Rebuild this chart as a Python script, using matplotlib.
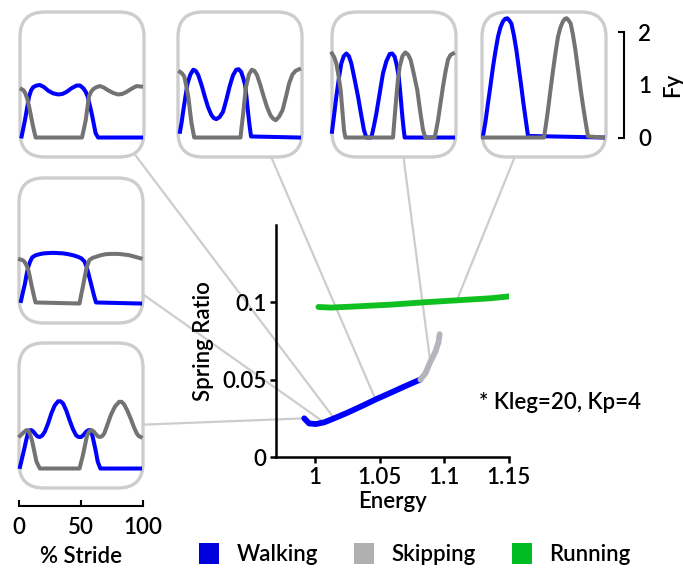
import matplotlib
matplotlib.use("Agg")
import matplotlib.pyplot as plt
from matplotlib.patches import FancyBboxPatch, Patch, ConnectionPatch

plt.rcParams['font.family'] = ['Lato', 'DejaVu Sans']
plt.rcParams['font.weight'] = 'semibold'
plt.rcParams['axes.labelweight'] = 'semibold'

# gait branches: energy vs spring ratio
walk_energy = [0.9918, 0.9956, 1.0008, 1.0072, 1.0149, 1.0251, 1.0380, 1.0469, 1.0585, 1.0687, 1.0815]
walk_ratio = [0.0250, 0.0217, 0.0213, 0.0224, 0.0250, 0.0286, 0.0336, 0.0372, 0.0415, 0.0454, 0.0501]
skip_energy = [1.0815, 1.0854, 1.0892, 1.0931, 1.0956, 1.0964]
skip_ratio = [0.0501, 0.0540, 0.0615, 0.0680, 0.0744, 0.0794]
run_energy = [1.0028, 1.0123, 1.0328, 1.0585, 1.0841, 1.1097, 1.1354, 1.1508]
run_ratio = [0.0970, 0.0966, 0.0974, 0.0985, 0.1000, 0.1013, 0.1026, 0.1039]

x_ticks = [1, 1.05, 1.1, 1.15]
x_tick_labels = ['1', '1.05', '1.1', '1.15']
y_ticks = [0, 0.05, 0.1]
y_tick_labels = ['0', '0.05', '0.1']

# vertical force profiles over one stride (leg 1 blue, leg 2 gray)
wa_blue_x = [1.3, 2.7, 4, 5.7, 7.3, 9, 10.7, 13.3, 16, 19.4, 22.8, 26.8, 30.9, 34.3, 37.6, 41.7, 45.7, 48.4, 51, 53, 54.6, 56.2, 57.8, 59.4, 61, 63, 97.6]
wa_blue_y = [0.02, 0.18, 0.33, 0.56, 0.78, 0.9, 0.96, 0.99, 1.0, 0.96, 0.89, 0.84, 0.82, 0.83, 0.87, 0.94, 0.99, 0.99, 0.94, 0.87, 0.78, 0.62, 0.46, 0.27, 0.08, 0, 0]
wa_gray_x = [1.3, 2.8, 4.3, 5.8, 7.3, 8.7, 10, 11.3, 12.6, 50, 51.5, 53, 54.3, 55.6, 57.3, 59, 61.7, 64.5, 67.7, 71, 75, 79, 82.5, 86, 90, 94, 97.6]
wa_gray_y = [0.92, 0.9, 0.84, 0.74, 0.59, 0.43, 0.27, 0.13, 0, 0, 0.16, 0.33, 0.56, 0.78, 0.87, 0.92, 0.96, 0.98, 0.95, 0.9, 0.85, 0.82, 0.83, 0.87, 0.93, 0.98, 0.97]

wb_blue_x = [1.6, 3, 4.3, 6, 7.7, 10, 12.3, 14.3, 16.3, 19, 21.6, 24.2, 26.9, 28.9, 30.9, 33.6, 36.3, 39, 41.6, 44.3, 46.9, 48.9, 50.9, 52.5, 54.1, 55.2, 56.3, 57.6, 58.9, 97.6]
wb_blue_y = [0.11, 0.3, 0.52, 0.78, 1.03, 1.2, 1.29, 1.27, 1.19, 1.0, 0.78, 0.58, 0.43, 0.37, 0.35, 0.39, 0.49, 0.72, 0.97, 1.18, 1.29, 1.3, 1.25, 1.14, 1.0, 0.78, 0.52, 0.25, 0.02, 0]
wb_gray_x = [1.6, 3.3, 5.1, 6.7, 8.3, 9.6, 10.9, 13.1, 50.4, 51.3, 52.3, 53.6, 54.9, 57.2, 59.5, 61.6, 63.7, 66.4, 69.1, 71.8, 74.4, 76.6, 78.9, 81.6, 84.3, 87, 89.6, 92.3, 94.9, 97.6]
wb_gray_y = [1.25, 1.22, 1.16, 0.98, 0.78, 0.52, 0.27, 0, 0, 0.2, 0.4, 0.7, 0.97, 1.2, 1.29, 1.27, 1.19, 1.0, 0.78, 0.58, 0.43, 0.36, 0.33, 0.4, 0.52, 0.77, 1.03, 1.2, 1.27, 1.3]

sk_blue_x = [0, 1.8, 3.5, 5.5, 7.5, 9.5, 11.6, 13.6, 15.6, 18.3, 21, 23.4, 25.8, 27.7, 31.7, 33.8, 35.8, 38.5, 41.1, 43.8, 46.5, 48.5, 50.5, 52.2, 53.8, 55.2, 56.5, 57.6, 58.6, 97.6]
sk_blue_y = [0.11, 0.45, 0.78, 1.12, 1.41, 1.55, 1.6, 1.55, 1.41, 1.1, 0.78, 0.45, 0.14, 0, 0, 0.22, 0.46, 0.85, 1.22, 1.45, 1.59, 1.6, 1.54, 1.38, 1.16, 0.82, 0.46, 0.2, 0, 0]
sk_gray_x = [0, 1.8, 3.5, 5.3, 7, 8.4, 9.7, 10.8, 49.2, 50.5, 51.9, 53.2, 54.6, 56.8, 59.1, 61.3, 63.4, 66.1, 68.8, 71.1, 73.4, 75.3, 82.8, 84.1, 85.5, 87.5, 89.5, 91.5, 93.5, 95.5, 97.6]
sk_gray_y = [1.6, 1.53, 1.41, 1.17, 0.9, 0.5, 0.14, 0, 0, 0.38, 0.78, 1.1, 1.35, 1.55, 1.62, 1.58, 1.48, 1.2, 0.9, 0.5, 0.14, 0, 0, 0.15, 0.33, 0.65, 0.97, 1.25, 1.48, 1.57, 1.6]

rn_blue_x = [0.8, 2.8, 4.8, 6.9, 8.9, 10.9, 12.9, 14.9, 16.9, 18.6, 20.4, 22.0, 23.7, 25.7, 27.7, 29.7, 31.7, 33.3, 34.9, 37.1, 97.6]
rn_blue_y = [0.03, 0.3, 0.65, 1.0, 1.35, 1.65, 1.92, 2.1, 2.21, 2.26, 2.27, 2.23, 2.17, 1.95, 1.67, 1.32, 0.97, 0.67, 0.4, 0.03, 0]
rn_gray_x = [0.8, 50, 51.6, 53.2, 55.2, 57.3, 59.3, 61.3, 63.3, 65.3, 66.8, 68.3, 69.9, 71.5, 73.4, 75.3, 77.4, 79.6, 81.5, 83.3, 85.5, 97.6]
rn_gray_y = [0, 0, 0.25, 0.52, 0.9, 1.28, 1.62, 1.92, 2.1, 2.21, 2.26, 2.27, 2.23, 2.17, 1.95, 1.67, 1.3, 0.91, 0.6, 0.33, 0.02, 0]

wc_blue_x = [1.6, 3.2, 4.8, 6.1, 7.5, 9, 10.7, 13.5, 16.7, 20, 23.5, 27.5, 31.5, 35.5, 39.5, 43.5, 47.5, 50.3, 52.8, 54.5, 56, 57.3, 58.7, 60.4, 62.1, 97.6]
wc_blue_y = [0.05, 0.22, 0.38, 0.55, 0.7, 0.8, 0.88, 0.92, 0.94, 0.955, 0.96, 0.965, 0.96, 0.955, 0.94, 0.92, 0.89, 0.86, 0.8, 0.7, 0.57, 0.45, 0.32, 0.16, 0.02, 0]
wc_gray_x = [0.8, 2.5, 4.3, 6, 7.5, 8.8, 10.1, 11.7, 13.3, 48.8, 50.1, 51.5, 52.8, 54.1, 55.5, 56.8, 59.5, 62.1, 66, 70.1, 75, 79.5, 84, 88.8, 93.5, 98.1]
wc_gray_y = [0.84, 0.83, 0.8, 0.73, 0.64, 0.5, 0.35, 0.18, 0.02, 0, 0.16, 0.32, 0.48, 0.64, 0.75, 0.83, 0.87, 0.89, 0.92, 0.94, 0.945, 0.945, 0.935, 0.92, 0.89, 0.86]

wd_blue_x = [0.8, 2.5, 4.3, 5.9, 7.5, 8.8, 10.1, 11.7, 13.3, 15, 16.8, 18.8, 20.8, 23.5, 26.1, 28.8, 31.5, 33.5, 35.5, 38.2, 40.8, 43.5, 46.1, 48.1, 50.1, 52.1, 54.1, 56, 57.6, 59, 60.3, 62, 63.5, 65.6, 97.6]
wd_blue_y = [0.03, 0.2, 0.38, 0.55, 0.7, 0.73, 0.73, 0.7, 0.65, 0.61, 0.6, 0.63, 0.7, 0.86, 1.05, 1.2, 1.28, 1.28, 1.24, 1.1, 0.92, 0.75, 0.63, 0.6, 0.6, 0.64, 0.7, 0.73, 0.73, 0.64, 0.51, 0.32, 0.13, 0, 0]
wd_gray_x = [0.8, 2.5, 4.3, 6, 7.5, 9.1, 10.7, 12.4, 14.1, 16.8, 48.8, 50.1, 51.5, 53.2, 54.9, 56.8, 58.7, 60.4, 62.1, 63.8, 65.5, 67.2, 68.8, 71.4, 74.1, 77.4, 80.8, 82.8, 84.8, 87.4, 90.1, 92.5, 94.9, 96.5, 98.1]
wd_gray_y = [0.62, 0.66, 0.7, 0.73, 0.73, 0.64, 0.51, 0.32, 0.13, 0, 0, 0.12, 0.25, 0.44, 0.63, 0.71, 0.73, 0.7, 0.65, 0.61, 0.6, 0.62, 0.67, 0.84, 1.02, 1.18, 1.27, 1.27, 1.22, 1.1, 0.95, 0.8, 0.67, 0.62, 0.6]

BLUE = '#0000ff'
SKIP_GRAY = '#b4b4bc'
GREEN = '#10c020'
LEG_GRAY = '#737373'
FRAME = '#cdcdcd'

W, H = 683, 569
fig = plt.figure(figsize=(W / 100, H / 100), dpi=100)


def rect(x0, y0, w, h):
    # pixel box (from top-left) -> figure fraction
    return [x0 / W, 1 - (y0 + h) / H, w / W, h / H]


# main energy / spring ratio axes
ax = fig.add_axes(rect(276, 225, 233, 232))
ax.patch.set_visible(False)
ax.plot(walk_energy, walk_ratio, color=BLUE, lw=4.2, solid_capstyle='round', zorder=3)
ax.plot(skip_energy, skip_ratio, color=SKIP_GRAY, lw=4.2, solid_capstyle='round', zorder=3)
ax.plot(run_energy, run_ratio, color=GREEN, lw=4.2, solid_capstyle='round', zorder=3)
ax.set_xlim(0.97, 1.15)
ax.set_ylim(0, 0.15)
ax.set_xticks(x_ticks, x_tick_labels)
ax.set_yticks(y_ticks, y_tick_labels)
for side in ('top', 'right'):
    ax.spines[side].set_visible(False)
for side in ('left', 'bottom'):
    ax.spines[side].set_linewidth(1.8)
ax.tick_params(direction='out', length=4, width=1.8, labelsize=16, pad=3)
ax.set_xlabel('Energy', fontsize=16, labelpad=2)
ax.set_ylabel('Spring Ratio', fontsize=16, labelpad=6)
ax.text(1.127, 0.0355, '* Kleg=20, Kp=4', fontsize=16, fontweight='semibold', ha='left', va='center')

# force profile insets
INSET_W, INSET_H = 124, 145
F_LIM = (-0.371, 2.39)


def draw_inset(x0, y0, blue_x, blue_y, gray_x, gray_y):
    axi = fig.add_axes(rect(x0, y0, INSET_W, INSET_H))
    axi.set_xlim(0, 100)
    axi.set_ylim(*F_LIM)
    axi.axis('off')
    frame = FancyBboxPatch((0, 0), 1, 1, boxstyle='round,pad=0,rounding_size=0.2',
                           mutation_aspect=INSET_W / INSET_H, transform=axi.transAxes,
                           fc='white', ec=FRAME, lw=2.4, zorder=0, clip_on=False)
    axi.add_patch(frame)
    axi.plot(blue_x, blue_y, color=BLUE, lw=2.9, clip_on=False, zorder=2)
    axi.plot(gray_x, gray_y, color=LEG_GRAY, lw=2.9, clip_on=False, zorder=3)
    return axi


insets = [
    (draw_inset(20, 12, wa_blue_x, wa_blue_y, wa_gray_x, wa_gray_y), (0.5, 0.5), walk_energy[4], walk_ratio[4]),
    (draw_inset(178, 12, wb_blue_x, wb_blue_y, wb_gray_x, wb_gray_y), (0.5, 0.5), walk_energy[7], walk_ratio[7]),
    (draw_inset(332, 12, sk_blue_x, sk_blue_y, sk_gray_x, sk_gray_y), (0.5, 0.5), skip_energy[2], skip_ratio[2]),
    (draw_inset(482, 12, rn_blue_x, rn_blue_y, rn_gray_x, rn_gray_y), (0.5, 0.5), run_energy[5], run_ratio[5]),
    (draw_inset(19, 178, wc_blue_x, wc_blue_y, wc_gray_x, wc_gray_y), (0.5, 0.5), walk_energy[3], walk_ratio[3]),
    (draw_inset(19, 343, wd_blue_x, wd_blue_y, wd_gray_x, wd_gray_y), (0.5, 0.42), walk_energy[0], walk_ratio[0]),
]

# leader lines from each inset to its point on the curves
for axi, anchor, ex, sr in insets:
    con = ConnectionPatch(xyA=anchor, coordsA=axi.transAxes, xyB=(ex, sr), coordsB=ax.transData,
                          color=FRAME, lw=1.6, zorder=-1)
    fig.add_artist(con)

# % stride scale bar
sx = fig.add_axes(rect(19, 496, INSET_W, 10))
sx.patch.set_visible(False)
sx.set_xlim(0, 100)
for side in ('left', 'right', 'top'):
    sx.spines[side].set_visible(False)
sx.spines['bottom'].set_linewidth(1.5)
sx.set_yticks([])
sx.set_xticks([0, 50, 100])
sx.tick_params(direction='in', length=4, width=1.5, labelsize=16, pad=8)
sx.set_xlabel('% Stride', fontsize=16, labelpad=6)

# vertical force scale bar
fy = fig.add_axes(rect(584, 12, 40, INSET_H))
fy.patch.set_visible(False)
fy.set_ylim(*F_LIM)
for side in ('left', 'top', 'bottom'):
    fy.spines[side].set_visible(False)
fy.spines['right'].set_bounds(0, 2)
fy.spines['right'].set_linewidth(1.5)
fy.set_xticks([])
fy.yaxis.tick_right()
fy.set_yticks([0, 2], ['0', '2'])
fy.set_yticks([1], ['1'], minor=True)
fy.tick_params(which='major', direction='in', length=4, width=1.5, labelsize=16, pad=10)
fy.tick_params(which='minor', direction='in', length=0, labelsize=16, pad=10)
fy.yaxis.set_label_position('right')
fy.set_ylabel('Fy', fontsize=16, labelpad=8)

# gait legend
handles = [Patch(fc='#0000dd', ec='none', label='Walking'),
           Patch(fc='#b0b0b0', ec='none', label='Skipping'),
           Patch(fc='#00bb22', ec='none', label='Running')]
fig.legend(handles=handles, loc='center', bbox_to_anchor=(415 / W, 1 - 554 / H), ncol=3,
           frameon=False, fontsize=16, handlelength=0.9, handleheight=1.1,
           handletextpad=0.8, columnspacing=1.6, borderpad=0)

fig.savefig('out.png', dpi=100)
